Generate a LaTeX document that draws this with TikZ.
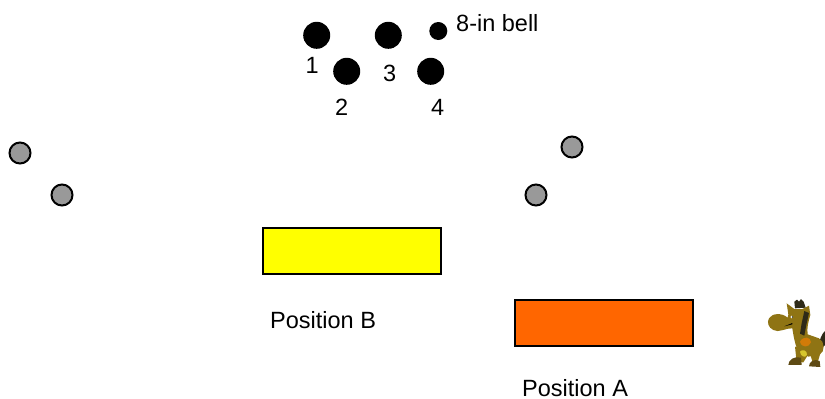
\documentclass[tikz,border=0pt]{standalone}
\usepackage{fontspec}
\setmainfont{Liberation Sans}
\definecolor{horse}{HTML}{8F7414}
\definecolor{horsedark}{HTML}{2E2A18}
\definecolor{horsefoot}{HTML}{5E4A14}
\definecolor{padyellow}{RGB}{255,255,0}
\definecolor{padorange}{RGB}{255,102,0}
\definecolor{ballgray}{RGB}{153,153,153}
\tikzset{
 bell/.style={circle,fill=black,draw=none,inner sep=0pt,minimum size=27pt},
 smallbell/.style={circle,fill=black,draw=none,inner sep=0pt,minimum size=18pt},
 grayball/.style={circle,fill=ballgray,draw=black,line width=2pt,inner sep=0pt,minimum size=21pt},
 pad/.style={draw=black,line width=1.2pt,inner sep=0pt,minimum width=178pt,minimum height=46pt},
 lbl/.style={inner sep=0pt,font=\fontsize{23.5}{28}\selectfont,anchor=base west},
 body/.style={fill=horse,draw=none}
}
\begin{document}
\begin{tikzpicture}[x=1pt,y=-1pt]
\useasboundingbox (0,0) rectangle (825,399);
\node[bell] (b1) at (316.7,35.3) {};
\node[bell] (b3) at (388.3,35.3) {};
\node[smallbell] (b8) at (438.3,31) {};
\node[bell] (b2) at (346.7,71.3) {};
\node[bell] (b4) at (430.7,71.3) {};
\node[lbl] (t8) at (456,31) {8-in bell};
\node[lbl] (t1) at (305.5,73) {1};
\node[lbl] (t3) at (383,81) {3};
\node[lbl] (t2) at (335,115) {2};
\node[lbl] (t4) at (431,115) {4};
\node[grayball] (g1) at (20,153) {};
\node[grayball] (g2) at (62,195) {};
\node[grayball] (g3) at (572,147) {};
\node[grayball] (g4) at (536,195) {};
\node[pad,fill=padyellow] (posb) at (352,251) {};
\node[pad,fill=padorange] (posa) at (604,323) {};
\node[lbl] (tb) at (270,328) {Position B};
\node[lbl] (ta) at (522,396.5) {Position A};
\begin{scope}[shift={(745,285)},x=0.3333pt,y=-0.3333pt]
 \fill[horsedark] (222,175) .. controls (228,150) and (238,135) .. (250,132) -- (250,172) -- (235,185) -- cycle;
 % legs and feet
 \fill[horse] (150,185) -- (195,200) -- (175,232) -- (155,232) -- cycle;
 \fill[horse] (190,190) -- (232,185) -- (218,232) -- (203,232) -- cycle;
 \fill[horsefoot] (130,240) .. controls (130,225) and (148,212) .. (168,218) -- (170,240) -- cycle;
 \fill[horsefoot] (192,244) .. controls (192,230) and (208,220) .. (224,228) -- (226,246) -- cycle;
 % body, neck, head
 \fill[body] (72,100) .. controls (80,85) and (110,82) .. (128,98) -- (130,88) -- (125,55) -- (148,72) -- (172,72) -- (192,62) -- (196,90) .. controls (190,110) and (185,130) .. (188,148) -- (222,160) .. controls (240,170) and (240,200) .. (225,208) -- (190,215) -- (160,200) .. controls (150,180) and (145,150) .. (142,130) .. controls (125,128) and (100,145) .. (85,135) .. controls (70,128) and (65,112) .. (72,100) -- cycle;
 % mane
 \fill[horsedark] (178,78) -- (192,84) -- (184,120) -- (178,152) -- (165,146) -- (170,115) -- cycle;
 \fill[horsedark] (148,50) -- (156,44) -- (162,50) -- (168,42) -- (176,50) -- (182,68) -- (150,70) -- cycle;
 % saddle patch
 \fill[orange!60!horse] (165,170) .. controls (175,152) and (198,155) .. (198,172) .. controls (192,188) and (170,190) .. (165,170) -- cycle;
 \fill[yellow!60!horse] (165,200) .. controls (170,192) and (188,195) .. (186,210) .. controls (182,220) and (166,215) .. (165,200) -- cycle;
 % eye and mouth
 \fill[white] (140,96) circle (4);
 \fill[black] (142,96) circle (2);
 \fill[black] (118,124) -- (142,114) -- (142,118) -- cycle;
\end{scope}
\end{tikzpicture}
\end{document}
